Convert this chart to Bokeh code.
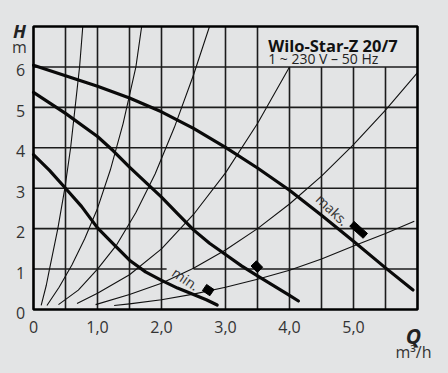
from bokeh.plotting import figure
from bokeh.models import Range1d, ColumnDataSource, LabelSet, Label
from bokeh.embed import file_html
from bokeh.resources import INLINE
from bokeh.core.properties import value

# ---------------- data ----------------
# pump curves (Q in m3/h, H in m)
q_max = [0.0, 0.5, 1.0, 1.5, 2.0, 2.5, 3.0, 3.5, 4.0, 4.5, 5.0, 5.5, 5.93]
h_max = [6.04, 5.78, 5.52, 5.23, 4.89, 4.48, 4.01, 3.50, 2.95, 2.33, 1.69, 1.03, 0.48]

q_mid = [0.0, 0.5, 1.0, 1.25, 1.5, 1.75, 2.0, 2.25, 2.5, 2.75, 3.0, 3.25, 3.5, 3.75, 4.0, 4.14]
h_mid = [5.37, 4.85, 4.28, 3.92, 3.52, 3.15, 2.78, 2.37, 1.97, 1.64, 1.36, 1.08, 0.83, 0.59, 0.35, 0.21]

q_min = [0.0, 0.25, 0.5, 0.75, 1.0, 1.25, 1.5, 1.75, 2.0, 2.25, 2.5, 2.7, 2.87]
h_min = [3.83, 3.44, 3.00, 2.55, 2.02, 1.62, 1.22, 0.93, 0.72, 0.53, 0.37, 0.24, 0.11]

# system curves
q_sysA = [0.12, 0.2, 0.25, 0.3, 0.38, 0.49, 0.58, 0.65, 0.72, 0.77]
h_sysA = [0.10, 0.60, 1.00, 1.38, 2.00, 3.00, 4.00, 5.00, 6.00, 7.00]
q_sysB = [0.21, 0.4, 0.6, 0.8, 1.0, 1.2, 1.4, 1.6, 1.69]
h_sysB = [0.10, 0.55, 1.10, 1.75, 2.50, 3.45, 4.60, 6.00, 7.00]
q_sysC = [0.39, 0.7, 1.0, 1.3, 1.6, 1.9, 2.2, 2.5, 2.75]
h_sysC = [0.12, 0.48, 1.00, 1.60, 2.40, 3.35, 4.50, 5.80, 7.00]
q_sysD = [0.68, 1.0, 1.5, 2.0, 2.5, 3.0, 3.5, 4.0]
h_sysD = [0.15, 0.40, 0.86, 1.50, 2.35, 3.38, 4.60, 6.00]
q_sysE = [0.97, 1.5, 2.0, 2.5, 3.0, 3.5, 4.0, 4.5, 5.0, 5.5, 6.0]
h_sysE = [0.12, 0.37, 0.65, 1.02, 1.47, 2.00, 2.61, 3.30, 4.08, 4.93, 5.86]
q_sysF = [1.26, 1.5, 2.0, 2.5, 3.0, 3.5, 4.0, 4.5, 5.0, 5.5, 5.95]
h_sysF = [0.10, 0.14, 0.24, 0.38, 0.55, 0.75, 0.97, 1.25, 1.57, 1.88, 2.18]

# setpoint marks (min, mid, max)
mark_q = [2.73, 3.49, 5.08]
mark_h = [0.48, 1.06, 1.97]

# ticks
x_ticks = [0, 1, 2, 3, 4, 5]
x_tick_labels = ["0", "1,0", "2,0", "3,0", "4,0", "5,0"]
y_ticks = [0, 1, 2, 3, 4, 5, 6]
y_tick_labels = ["0", "1", "2", "3", "4", "5", "6"]
x_grid = [0.5, 1.0, 1.5, 2.0, 2.5, 3.0, 3.5, 4.0, 4.5, 5.0, 5.5]
y_grid = [1, 2, 3, 4, 5, 6]
Q_MAX, H_MAX = 6.0, 7.0

title1 = "Wilo-Star-Z 20/7"
title2 = "1 ~ 230 V \u2013 50 Hz"

# ---------------- figure ----------------
BG = "#e3e4e5"
FONT = "Open Sans"
BFONT = "Open Sans"
W, H = 440, 365
PX_Q = 64.0            # pixels per m3/h
PX_H = 283.0 / 7.0     # pixels per m
LEFT, TOP = 33.0, 26.0  # chart box offset inside the canvas

p = figure(width=W, height=H, output_backend="svg", toolbar_location=None,
           x_range=Range1d(-LEFT / PX_Q, (W - LEFT) / PX_Q),
           y_range=Range1d(H_MAX - (H - TOP) / PX_H, H_MAX + TOP / PX_H),
           min_border=0)
p.background_fill_color = BG
p.border_fill_color = BG
p.outline_line_color = None
p.xaxis.visible = False
p.yaxis.visible = False
p.xgrid.visible = False
p.ygrid.visible = False

# grid (title box at top right, gap for the 'min.' label)
x0, x1, y0, y1 = [], [], [], []
for q in x_grid:
    x0.append(q); x1.append(q)
    y0.append(1.0 if q == 2.5 else 0.0)
    y1.append(6.0 if q > 3.5 else H_MAX)
for h in y_grid:
    if h == 1:
        x0 += [0.0, 2.5]; x1 += [2.08, Q_MAX]; y0 += [h, h]; y1 += [h, h]
    else:
        x0.append(0.0); x1.append(Q_MAX); y0.append(h); y1.append(h)
p.segment(x0=x0, y0=y0, x1=x1, y1=y1, line_color="#1c1c1c", line_width=1.6)

# system curves
for qs, hs in [(q_sysA, h_sysA), (q_sysB, h_sysB), (q_sysC, h_sysC),
               (q_sysD, h_sysD), (q_sysE, h_sysE), (q_sysF, h_sysF)]:
    p.line(qs, hs, line_color="#111111", line_width=1.1, line_join="round")

# pump curves
for qs, hs in [(q_max, h_max), (q_mid, h_mid), (q_min, h_min)]:
    p.line(qs, hs, line_color="#0a0a0a", line_width=3.2, line_join="round", line_cap="round")

# chart frame
p.quad(left=[0], right=[Q_MAX], bottom=[0], top=[H_MAX], fill_color=None,
       line_color="black", line_width=2.6)

# setpoint marks
p.rect(x=mark_q, y=mark_h, width=[9, 9, 18], height=[7.5, 7.5, 6.5],
       width_units="screen", height_units="screen",
       angle=[-0.6, -0.8, -0.73], fill_color="black", line_color="black")

# curve labels
p.add_layout(Label(x=2.38, y=0.76, text="min.", angle=-0.6, text_align="center",
                   text_baseline="middle", text_font=FONT, text_font_size="14px",
                   text_color="#333333"))
p.add_layout(Label(x=4.67, y=2.47, text="maks.", angle=-0.76, text_align="center",
                   text_baseline="middle", text_font=FONT, text_font_size="14px",
                   text_color="#333333"))

# title
p.add_layout(Label(x=3.667, y=6.537, text=title1, text_font=BFONT, text_font_size="16.5px",
                   text_font_style="bold", text_color="#111111", text_baseline="alphabetic"))
p.add_layout(Label(x=3.667, y=6.21, text=title2, text_font=FONT, text_font_size="14px",
                   text_color="#222222", text_baseline="alphabetic"))

# tick labels
xs = ColumnDataSource(dict(x=x_ticks, y=[0] * len(x_ticks), t=x_tick_labels))
ys = ColumnDataSource(dict(x=[0] * len(y_ticks), y=y_ticks, t=y_tick_labels))
p.add_layout(LabelSet(x="x", y="y", text="t", source=xs, y_offset=-17, text_align="center",
                      text_baseline="middle", text_font=value(FONT), text_font_size="16px",
                      text_color="#333333"))
p.add_layout(LabelSet(x="x", y="y", text="t", source=ys, x_offset=-13, y_offset=-3.5,
                      text_align="center", text_baseline="middle", text_font=value(FONT),
                      text_font_size="16px", text_color="#333333"))

# axis titles
p.add_layout(Label(x=0, y=H_MAX, x_offset=-14, y_offset=-4, text="H", text_align="center",
                   text_baseline="alphabetic", text_font=BFONT, text_font_size="18.5px",
                   text_font_style="bold italic", text_color="#222222"))
p.add_layout(Label(x=0, y=H_MAX, x_offset=-14, y_offset=-20, text="m", text_align="center",
                   text_baseline="alphabetic", text_font=FONT, text_font_size="16px",
                   text_color="#333333"))
p.add_layout(Label(x=Q_MAX, y=0, x_offset=-4, y_offset=-26, text="Q", text_align="center",
                   text_baseline="alphabetic", text_font=BFONT, text_font_size="21px",
                   text_font_style="bold italic", text_color="#222222"))
p.add_layout(Label(x=Q_MAX, y=0, x_offset=-4, y_offset=-42.5, text="m\u00b3/h",
                   text_align="center", text_baseline="alphabetic", text_font=FONT,
                   text_font_size="16px", text_color="#333333"))

html = file_html(p, INLINE)
html = html.replace("<head>", "<head><style>html,body{background:%s;}</style>" % BG, 1)
open("out.html", "w").write(html)
